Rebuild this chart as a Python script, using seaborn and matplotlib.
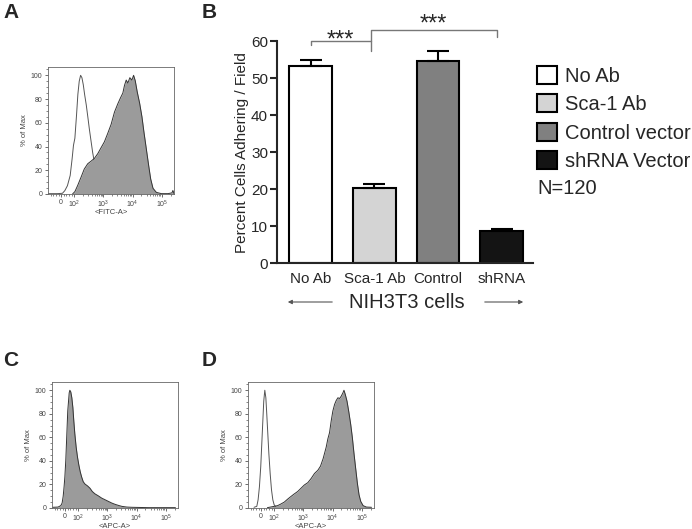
import matplotlib
matplotlib.use('Agg')
import matplotlib.pyplot as plt
from matplotlib.patches import Patch
from matplotlib.ticker import MultipleLocator
import seaborn as sns

# ---- panel B: adhesion assay ----
cats = ['No Ab', 'Sca-1 Ab', 'Control', 'shRNA']
means = [53.3, 20.2, 54.5, 8.8]
sems = [1.6, 1.2, 2.7, 0.5]
legend_labels = ['No Ab', 'Sca-1 Ab', 'Control vector', 'shRNA Vector']
bar_colors = ['#ffffff', '#d4d4d4', '#808080', '#141414']

# ---- flow histograms (x = fluorescence, y = % of max) ----
a_iso_x = [-100, -28, 10, 28, 48, 69, 84, 94, 105, 120, 133, 148, 165, 183, 204,
           226, 258, 295, 328, 374, 427, 488, 603, 741, 944, 1410, 3000]
a_iso_y = [0.3, 0.3, 0.6, 2.8, 7, 15.6, 30, 41, 47, 67, 84, 95, 100, 98, 92,
           84, 75, 64, 55, 45, 35, 27, 15.6, 7, 2, 0.3, 0.3]
a_sca_x = [87, 105, 130, 170, 220, 290, 370, 490, 640, 830, 1080, 1400, 1830,
           2390, 3110, 3840, 4620, 5270, 6030, 6870, 8050, 9440, 10800, 12300,
           14400, 17400, 20900, 24500, 29500, 35500, 41600, 50000, 65000, 97000,
           165000, 224000, 240000, 262144]
a_sca_y = [0, 2, 7, 14, 21, 25.5, 27.5, 30, 34, 39, 44, 51, 58.6,
           69, 76, 81, 85, 91.5, 96, 93.5, 98, 96, 100, 95.5,
           86, 76.5, 65, 52, 38, 24, 12.7, 4.8, 1.4, 0.3,
           0.3, 1, 3, 0.5]

c_x = [-92, -54, -33, -23, -15, -8, -2, 5, 10, 15, 20, 26, 31, 36, 43, 51, 59,
       66, 74, 84, 94, 105, 117, 130, 148, 169, 209, 252, 303, 374, 488, 635,
       828, 1080, 1410, 1830, 2390, 3110, 4620, 6870, 25800, 214000]
c_y = [0.6, 0.8, 2, 4.2, 9.8, 18, 26.5, 40.5, 54.5, 68.4, 82.4, 90.8, 97.8,
       100, 98.6, 93.6, 85.2, 74, 62.8, 51.7, 43.3, 36.3, 30.7, 26.5, 22.3, 20.4,
       18.7, 16.8, 14, 12, 10.3, 8.4, 7, 5.6, 4.2, 3.1, 2.2, 1.4, 0.8, 0.6, 0.3, 0.3]

d_iso_x = [-54, -33, -23, -13, -3, 5, 13, 20, 28, 36, 43, 51, 59, 69, 79, 89,
           99, 114, 148]
d_iso_y = [0.6, 1.4, 7, 18, 35, 54.5, 74, 90.8, 100, 93.6, 79.6, 62.8, 46, 29,
           15.4, 7, 2.8, 0.8, 0.3]
d_sca_x = [48, 99, 130, 169, 220, 287, 374, 488, 635, 828, 1080, 1410, 1830,
           2390, 3110, 3840, 4740, 6030, 6870, 7850, 8950, 10200, 11700, 13300,
           15200, 17400, 19800, 22600, 24500, 27200, 31100, 35500, 41600, 47400,
           54200, 61800, 70600, 80500, 92000, 111000, 144000, 215000]
d_sca_y = [0.3, 1.4, 2, 3.4, 5, 7.5, 9.8, 12, 14, 16.8, 19.6, 21.5, 25,
           29.3, 32, 35.5, 42, 51.7, 58.7, 64, 74, 82.4, 88, 91.3,
           93.6, 93, 95, 97.8, 100, 96.4, 90.8, 82.4, 71.2, 60,
           46, 33.5, 21, 11.2, 5.6, 2, 0.8, 0.6]

flow_ticks = [0, 1e2, 1e3, 1e4, 1e5]
flow_tick_labels = ['0', '$10^2$', '$10^3$', '$10^4$', '$10^5$']

sns.set_style('ticks')
plt.rcParams['font.family'] = ['Liberation Sans', 'DejaVu Sans']
plt.rcParams['mathtext.fontset'] = 'custom'
plt.rcParams['mathtext.rm'] = 'Liberation Sans'
plt.rcParams['mathtext.it'] = 'Liberation Sans:italic'
plt.rcParams['mathtext.bf'] = 'Liberation Sans:bold'

W, H = 692, 529
fig = plt.figure(figsize=(W / 100, H / 100), dpi=100)


def px_axes(left, top, right, bottom):
    return fig.add_axes([left / W, 1 - bottom / H, (right - left) / W, (bottom - top) / H])


def style_hist(ax, xlabel):
    ax.set_xscale('symlog', linthresh=100, linscale=0.405)
    ax.set_xlim(-100, 262144)
    ax.set_ylim(0, 107)
    ax.set_xticks(flow_ticks)
    ax.set_xticklabels(flow_tick_labels)
    minor = [-80, -60, -40, -20, 20, 40, 60, 80]
    for d in (2, 3, 4):
        minor += [k * 10 ** d for k in range(2, 10)]
    minor += [2e5]
    ax.set_xticks(minor, minor=True)
    ax.set_yticks(range(0, 101, 20))
    ax.yaxis.set_minor_locator(MultipleLocator(5))
    ax.tick_params(which='major', labelsize=5, length=2.5, width=0.6,
                   color='#555555', labelcolor='#444444', pad=1.5)
    ax.tick_params(axis='x', which='major', pad=0.8)
    ax.tick_params(which='minor', length=1.3, width=0.5, color='#555555')
    for s in ax.spines.values():
        s.set_visible(True)
        s.set_linewidth(0.6)
        s.set_color('#666666')
    ax.set_xlabel(xlabel, fontsize=5.5, labelpad=-0.8, color='#444444')
    ax.set_ylabel('% of Max', fontsize=5.5, labelpad=2, color='#444444')


def draw_filled(ax, x, y):
    ax.fill_between(x, y, 0, color='#9b9b9b', lw=0, zorder=2)
    sns.lineplot(x=x, y=y, ax=ax, color='#333333', lw=0.7, sort=False,
                 estimator=None, zorder=3)


def draw_open(ax, x, y):
    sns.lineplot(x=x, y=y, ax=ax, color='#555555', lw=0.7, sort=False,
                 estimator=None, zorder=1)


# Panel A
ax_a = px_axes(48, 67, 174, 194)
draw_open(ax_a, a_iso_x, a_iso_y)
draw_filled(ax_a, a_sca_x, a_sca_y)
style_hist(ax_a, '<FITC-A>')

# Panel C
ax_c = px_axes(52, 382, 178, 508)
draw_filled(ax_c, c_x, c_y)
style_hist(ax_c, '<APC-A>')

# Panel D
ax_d = px_axes(248, 382, 374, 508)
draw_open(ax_d, d_iso_x, d_iso_y)
draw_filled(ax_d, d_sca_x, d_sca_y)
style_hist(ax_d, '<APC-A>')

# Panel B
ax_b = px_axes(277, 41, 533, 263.3)
sns.barplot(x=cats, y=means, hue=cats, palette=bar_colors, legend=False,
            width=0.67, edgecolor='black', linewidth=1.5, saturation=1,
            errorbar=None, ax=ax_b, zorder=2)
ax_b.errorbar(range(len(cats)), means, yerr=[[0] * len(cats), sems], fmt='none',
              ecolor='black', elinewidth=1.5, capsize=8, capthick=1.5, zorder=3)
ax_b.set_xlim(-0.53, 3.49)
ax_b.set_ylim(0, 60)
ax_b.set_yticks(range(0, 61, 10))
sns.despine(ax=ax_b)
for s in ('left', 'bottom'):
    ax_b.spines[s].set_linewidth(1.5)
ax_b.tick_params(axis='y', labelsize=11, length=5, width=1.5, pad=1.5)
ax_b.tick_params(axis='x', labelsize=11, length=0, pad=6)
ax_b.set_xlabel('')
ax_b.set_ylabel('Percent Cells Adhering / Field', fontsize=11)
ax_b.yaxis.label.set_va('center')
ax_b.yaxis.set_label_coords(-35 / 256, 0.5)

# significance brackets
ax_b.plot([0, 0, 0.94, 0.94], [59, 60, 60, 57.2], color='#777777', lw=1, clip_on=False)
ax_b.plot([0.94, 0.94, 2.92, 2.92], [60, 63, 63, 61], color='#777777', lw=1, clip_on=False)
ax_b.text(0.46, 58.6, '***', ha='center', va='baseline', fontsize=17, clip_on=False)
ax_b.text(1.92, 62.9, '***', ha='center', va='baseline', fontsize=17, clip_on=False)

fig.text(407 / W, 1 - 303 / H, 'NIH3T3 cells', ha='center', va='center', fontsize=14.5)
arrow_kw = dict(arrowstyle='-|>', color='#555555', lw=0.8, mutation_scale=6)
fig.add_artist(plt.Annotation('', xy=(285 / W, 1 - 302 / H), xytext=(335 / W, 1 - 302 / H),
                              xycoords='figure fraction', arrowprops=arrow_kw))
fig.add_artist(plt.Annotation('', xy=(526 / W, 1 - 302 / H), xytext=(482 / W, 1 - 302 / H),
                              xycoords='figure fraction', arrowprops=arrow_kw))

handles = [Patch(facecolor=c, edgecolor='black', lw=1.5) for c in bar_colors]
fig.legend(handles=handles, labels=legend_labels, loc='upper left',
           bbox_to_anchor=(537 / W, 1 - 66 / H), frameon=False, fontsize=14.5,
           handlelength=1.0, handleheight=1.0, handletextpad=0.4,
           labelspacing=0.42, borderpad=0, borderaxespad=0)
fig.text(537 / W, 1 - 188 / H, 'N=120', va='center', fontsize=14.5)

# panel letters
for letter, x, y in (('A', 3, 18.3), ('B', 202, 18.3), ('C', 3, 366), ('D', 202, 366)):
    fig.text(x / W, 1 - y / H, letter, fontsize=15, fontweight='bold', va='baseline')

fig.savefig('out.png', dpi=100)
